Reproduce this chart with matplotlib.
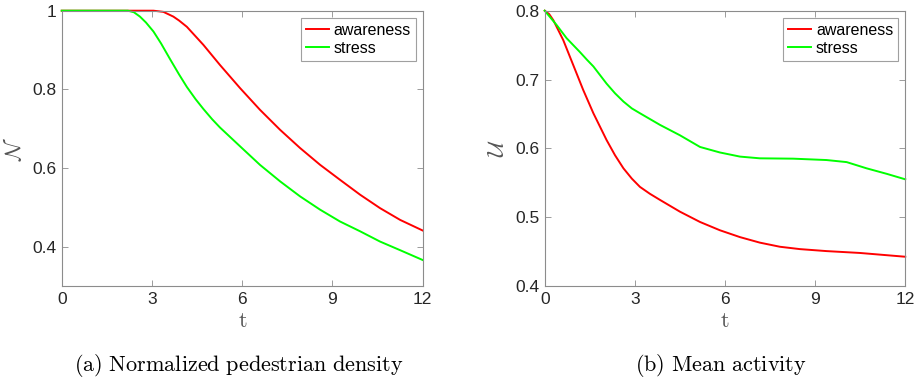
import matplotlib
matplotlib.use("Agg")
import matplotlib.pyplot as plt

plt.rcParams['mathtext.fontset'] = 'cm'
plt.rcParams['font.family'] = ['Liberation Sans', 'DejaVu Sans']

# Panel (a): normalized pedestrian density
t_a_aw = [0, 1, 2, 3.05, 3.38, 3.71, 3.9, 4.16, 4.71, 5.26, 5.93, 6.59, 7.26, 7.92, 8.59, 9.25, 9.92, 10.58, 11.25, 12]
n_aw = [1, 1, 1, 1, 0.997, 0.985, 0.975, 0.959, 0.913, 0.862, 0.803, 0.748, 0.697, 0.651, 0.608, 0.570, 0.532, 0.498, 0.468, 0.441]
t_a_st = [0, 1, 2, 2.2, 2.4, 2.6, 2.8, 3.05, 3.3, 3.6, 3.9, 4.16, 4.45, 4.71, 5.0, 5.26, 5.93, 6.59, 7.26, 7.92, 8.59, 9.25, 9.92, 10.58, 11.25, 12]
n_st = [1, 1, 1, 1, 0.996, 0.985, 0.970, 0.947, 0.917, 0.877, 0.838, 0.806, 0.775, 0.750, 0.724, 0.703, 0.655, 0.608, 0.566, 0.528, 0.494, 0.464, 0.439, 0.413, 0.391, 0.366]

# Panel (b): mean activity
t_b_aw = [0, 0.15, 0.29, 0.62, 0.95, 1.28, 1.62, 2.06, 2.34, 2.62, 2.9, 3.17, 3.5, 3.84, 4.5, 5.17, 5.83, 6.5, 7.16, 7.83, 8.49, 9.38, 10.49, 12]
u_aw = [0.8, 0.795, 0.786, 0.757, 0.721, 0.685, 0.651, 0.612, 0.590, 0.571, 0.556, 0.544, 0.534, 0.525, 0.508, 0.493, 0.481, 0.471, 0.463, 0.457, 0.4536, 0.4507, 0.448, 0.4425]
t_b_st = [0, 0.4, 0.73, 1.17, 1.4, 1.62, 2.06, 2.34, 2.62, 2.9, 3.17, 3.84, 4.5, 5.17, 5.83, 6.5, 7.16, 8.27, 9.38, 10.05, 10.71, 11.38, 12]
u_st = [0.8, 0.779, 0.760, 0.740, 0.729, 0.719, 0.694, 0.680, 0.668, 0.658, 0.651, 0.634, 0.619, 0.602, 0.594, 0.588, 0.5855, 0.585, 0.583, 0.580, 0.571, 0.563, 0.555]

xticks = [0, 3, 6, 9, 12]
RED = '#ff0000'
GREEN = '#00ff00'
GREY = '#262626'
SPINE = '#8c8c8c'

fig = plt.figure(figsize=(9.17, 3.79), dpi=100)
ax1 = fig.add_axes([0.0673, 0.2454, 0.3937, 0.7264])
ax2 = fig.add_axes([0.594, 0.2454, 0.3932, 0.7264])

def style(ax):
    for s in ax.spines.values():
        s.set_color(SPINE)
        s.set_linewidth(0.8)
    ax.tick_params(direction='in', top=True, right=True, length=4, width=0.6,
                   color=SPINE, labelcolor=GREY, labelsize=12.5, pad=4)
    ax.set_xlim(0, 12)
    ax.set_xticks(xticks)
    ax.set_xlabel(r'$\mathrm{t}$', fontsize=16, color='#555555', labelpad=3)
    leg = ax.legend(loc='upper right', fontsize=11.5, handlelength=1.45,
                    handletextpad=0.3, borderpad=0.3, labelspacing=0.2,
                    fancybox=False, framealpha=1, borderaxespad=0.45)
    leg.get_frame().set_edgecolor('#a0a0a0')
    leg.get_frame().set_linewidth(0.8)
    for txt in leg.get_texts():
        txt.set_color('#000000')

ax1.plot(t_a_aw, n_aw, color=RED, lw=1.4, label='awareness', clip_on=False)
ax1.plot(t_a_st, n_st, color=GREEN, lw=1.4, label='stress', clip_on=False)
ax1.set_ylim(0.3, 1.0)
ax1.set_yticks([0.4, 0.6, 0.8, 1.0])
ax1.set_yticklabels(['0.4', '0.6', '0.8', '1'])
ax1.set_ylabel(r'$\mathcal{N}$', fontsize=16, color='#555555', labelpad=4)
style(ax1)

ax2.plot(t_b_aw, u_aw, color=RED, lw=1.4, label='awareness', clip_on=False)
ax2.plot(t_b_st, u_st, color=GREEN, lw=1.4, label='stress', clip_on=False)
ax2.set_ylim(0.4, 0.8)
ax2.set_yticks([0.4, 0.5, 0.6, 0.7, 0.8])
ax2.set_ylabel(r'$\mathcal{U}$', fontsize=16, color='#555555', labelpad=4)
style(ax2)

fig.text(0.260, 0.035, r'$\mathrm{(a)\ Normalized\ pedestrian\ density}$', ha='center', va='center', fontsize=16)
fig.text(0.786, 0.035, r'$\mathrm{(b)\ Mean\ activity}$', ha='center', va='center', fontsize=16)

fig.savefig('out.png', dpi=100)
